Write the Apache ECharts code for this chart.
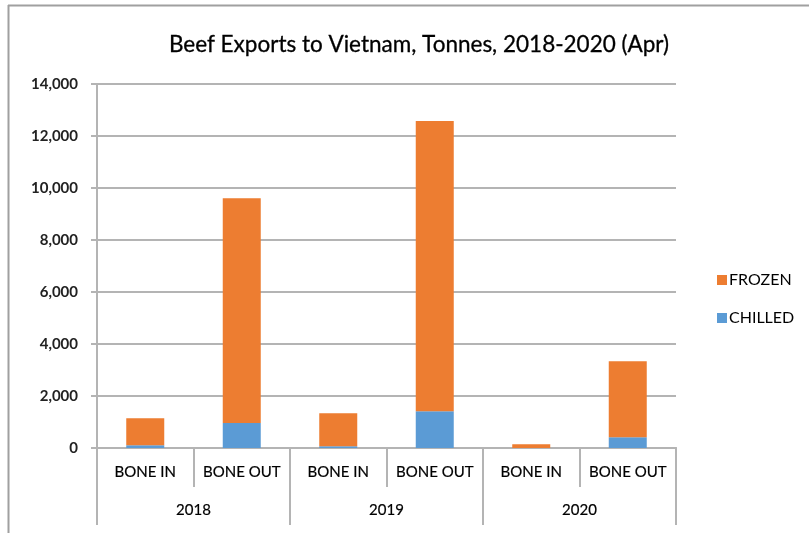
<!DOCTYPE html>
<html>
<head>
<meta charset="utf-8">
<script src="https://cdn.jsdelivr.net/npm/echarts@6/dist/echarts.min.js"></script>
<style>
  html, body { margin: 0; padding: 0; background: #fff; }
  #chart { width: 809px; height: 533px; }
</style>
</head>
<body>
<div id="chart"></div>
<script>
// Beef exports to Vietnam (tonnes), by year and cut type
const cuts = ['BONE IN', 'BONE OUT', 'BONE IN', 'BONE OUT', 'BONE IN', 'BONE OUT'];
const years = ['2018', '2019', '2020'];
const chilled = [105, 960, 65, 1410, 0, 415];
const frozen = [1040, 8650, 1270, 11165, 145, 2925];
const yTicks = [0, 2000, 4000, 6000, 8000, 10000, 12000, 14000];

const FONT = 'Lato, "Open Sans", sans-serif';
const GRID_GRAY = '#b4b4b4';

const chart = echarts.init(document.getElementById('chart'), null, { renderer: 'canvas' });

chart.setOption({
  backgroundColor: '#ffffff',
  animation: false,
  title: {
    text: 'Beef Exports to Vietnam, Tonnes, 2018-2020 (Apr)',
    left: 414,
    textAlign: 'center',
    top: 28,
    textStyle: { fontFamily: FONT, fontSize: 22.5, fontWeight: 'normal', color: '#000', textBorderColor: '#000', textBorderWidth: 0.3 }
  },
  legend: {
    orient: 'vertical',
    left: 712,
    top: 267,
    itemWidth: 10,
    itemHeight: 10,
    itemGap: 22,
    icon: 'rect',
    data: ['FROZEN', 'CHILLED'],
    textStyle: { fontFamily: FONT, fontSize: 16, color: '#000', padding: [0, 0, 0, -3] }
  },
  grid: { left: 97, right: 133, top: 84, bottom: 85, containLabel: false },
  xAxis: [
    {
      type: 'category',
      data: cuts,
      position: 'bottom',
      axisLine: { lineStyle: { color: GRID_GRAY, width: 2 } },
      axisTick: { show: true, interval: 0, length: 39, lineStyle: { color: GRID_GRAY, width: 2 } },
      axisLabel: { interval: 0, margin: 17, fontFamily: FONT, fontSize: 15, color: '#000', textBorderColor: '#000', textBorderWidth: 0.2 }
    },
    {
      type: 'category',
      data: years,
      position: 'bottom',
      axisLine: { lineStyle: { color: GRID_GRAY, width: 2 } },
      axisTick: { show: true, interval: 0, length: 77, lineStyle: { color: GRID_GRAY, width: 2 } },
      axisLabel: { interval: 0, margin: 55, fontFamily: FONT, fontSize: 15, color: '#000', textBorderColor: '#000', textBorderWidth: 0.2 }
    }
  ],
  yAxis: {
    type: 'value',
    min: yTicks[0],
    max: yTicks[yTicks.length - 1],
    interval: 2000,
    axisLine: { show: true, lineStyle: { color: GRID_GRAY, width: 2 } },
    axisTick: { show: true, length: 6, lineStyle: { color: GRID_GRAY, width: 2 } },
    splitLine: { show: true, lineStyle: { color: GRID_GRAY, width: 2 } },
    axisLabel: {
      margin: 19,
      fontFamily: FONT,
      fontSize: 15,
      fontWeight: 'bold',
      color: '#222',
      formatter: v => v.toLocaleString('en-US')
    }
  },
  series: [
    {
      name: 'CHILLED',
      type: 'bar',
      stack: 'total',
      xAxisIndex: 0,
      barWidth: 38,
      data: chilled,
      itemStyle: { color: '#5b9bd5' }
    },
    {
      name: 'FROZEN',
      type: 'bar',
      stack: 'total',
      xAxisIndex: 0,
      barWidth: 38,
      data: frozen,
      itemStyle: { color: '#ed7d31' }
    }
  ],
  graphic: [
    { type: 'line', shape: { x1: 8, y1: 5.5, x2: 809, y2: 5.5 }, style: { stroke: '#a0a0a0', lineWidth: 2 } },
    { type: 'line', shape: { x1: 8.5, y1: 5, x2: 8.5, y2: 533 }, style: { stroke: '#a0a0a0', lineWidth: 2 } }
  ]
});
</script>
</body>
</html>
